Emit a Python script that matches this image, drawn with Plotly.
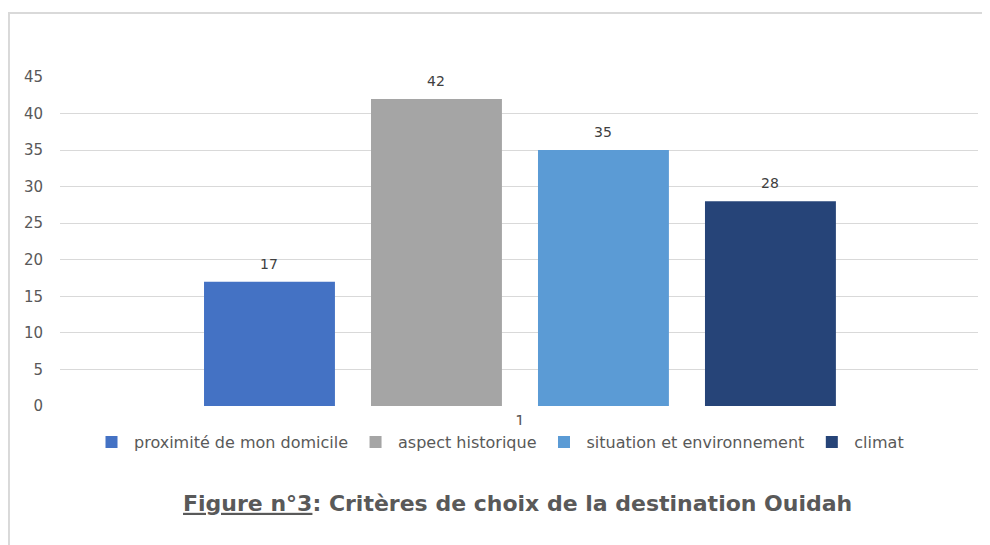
import plotly.graph_objects as go

# Données
category_label = "1"
series_names = ["proximité de mon domicile", "aspect historique",
                "situation et environnement", "climat"]
series_values = [17, 42, 35, 28]
series_colors = ["#4472c4", "#a5a5a5", "#5b9bd5", "#264478"]
y_ticks = [0, 5, 10, 15, 20, 25, 30, 35, 40, 45]

# une position par série (barres groupées façon Excel)
positions = list(range(len(series_names)))
center = (positions[0] + positions[-1]) / 2

fig = go.Figure()
for pos, name, val, col in zip(positions, series_names, series_values, series_colors):
    fig.add_trace(go.Bar(
        x=[pos], y=[val], name=name, width=0.784,
        marker=dict(color=col, line=dict(width=0)),
        hovertemplate=name + ": %{y}<extra></extra>",
    ))
    fig.add_annotation(x=pos, y=val, text=str(val), showarrow=False,
                       yanchor="bottom", yshift=8,
                       font=dict(family="DejaVu Sans", size=14, color="#404040"))

fig.update_layout(
    width=982, height=537,
    margin=dict(l=52, r=12, t=69, b=139),
    paper_bgcolor="white", plot_bgcolor="white",
    barmode="overlay",
    font=dict(family="DejaVu Sans", size=15, color="#595959"),
    showlegend=True,
    legend=dict(orientation="h", x=0.0316, xanchor="left", y=-0.11, yanchor="middle",
                itemwidth=35,
                font=dict(family="DejaVu Sans", size=16, color="#595959"),
                itemclick=False),
    title=dict(
        text="<b><u>Figure n°3</u>: Critères de choix de la destination Ouidah</b>",
        x=0.519, xanchor="center", y=0.078, yanchor="middle",
        font=dict(family="DejaVu Sans", size=22, color="#595959"),
    ),
    shapes=[dict(type="rect", xref="paper", yref="paper",
                 x0=-0.0556, x1=1.05, y0=-0.5, y1=1.1945,
                 line=dict(color="#d9d9d9", width=2), layer="below")],
)

fig.update_yaxes(range=[0, 45], tickvals=y_ticks, showgrid=True,
                 gridcolor="#d9d9d9", gridwidth=1, zeroline=False,
                 showline=False, ticklabelstandoff=16,
                 tickfont=dict(family="DejaVu Sans", size=15, color="#595959"))
fig.update_xaxes(range=[-1.2545, 4.243], tickvals=[center], ticktext=[category_label],
                 showgrid=False, zeroline=False, showline=False,
                 tickfont=dict(family="DejaVu Sans", size=15, color="#595959"),
                 ticklabelstandoff=5)

fig.write_html("out.html")
